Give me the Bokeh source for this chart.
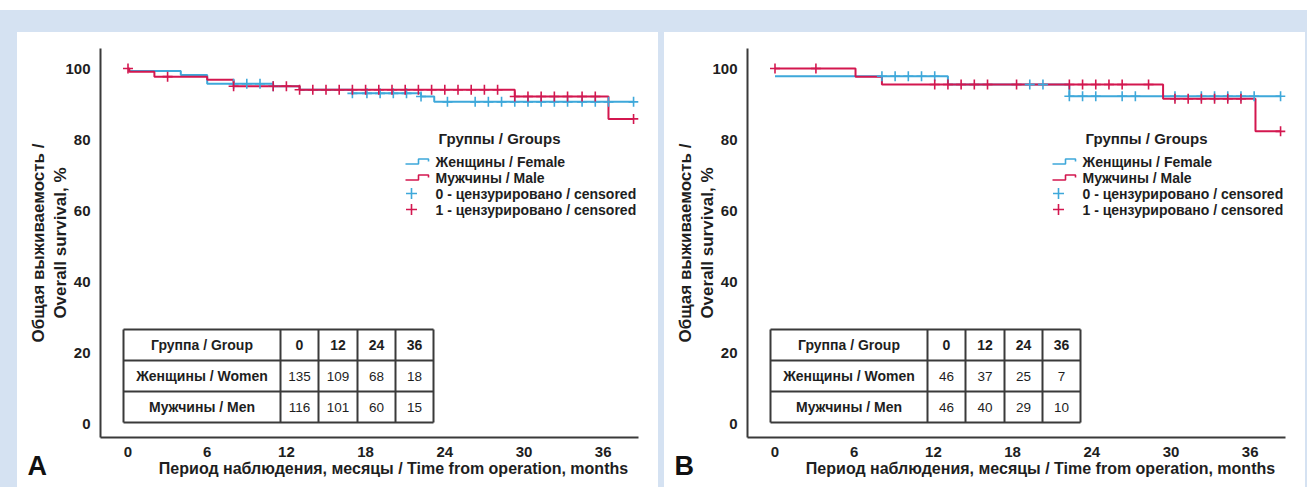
import numpy as np
from bokeh.plotting import figure
from bokeh.models import FixedTicker, Spacer, Label
from bokeh.layouts import row, column
from bokeh.core.properties import value
from bokeh.embed import file_html
from bokeh.resources import INLINE

# ---------------- data ----------------
x_ticks = [0, 6, 12, 18, 24, 30, 36]
y_ticks = [0, 20, 40, 60, 80, 100]

# Panel A
a_female_t = [0, 4.0, 6.0, 11.0, 13.0, 17.0, 22.2, 23.2]
a_female_s = [99.3, 98.2, 95.7, 95.0, 94.0, 93.0, 92.1, 90.6]
a_female_cens = [8, 9, 10, 11, 17.0, 18.1, 19.1, 20.1, 21.1, 22.2, 24.2, 26.3, 27.3,
                 28.3, 29.3, 30.3, 31.3, 32.3, 33.3, 34.4, 35.4, 36.4, 38.3]
a_male_t = [0, 0.1, 2.0, 6.0, 8.0, 13.0, 29.3, 36.4]
a_male_s = [100, 99.1, 97.7, 96.8, 95.0, 94.0, 92.1, 85.8]
a_male_cens = [0, 3, 8, 11, 12, 13, 14, 15, 16, 17, 18, 19, 20, 21, 22, 23, 24, 25, 26,
               27, 28, 29.3, 30.3, 31.3, 32.3, 33.3, 34.4, 35.4, 38.3]
a_end = 38.3

# Panel B
b_female_t = [0, 13.1, 22.3]
b_female_s = [97.8, 95.5, 92.2]
b_female_cens = [8.1, 9.1, 10.1, 11.1, 12.1, 19.3, 20.3, 22.3, 23.3, 24.3, 26.3, 27.3,
                 30.3, 32.3, 33.3, 34.3, 35.3, 36.3, 38.3]
b_male_t = [0, 6.1, 8.1, 29.4, 36.4]
b_male_s = [100, 97.7, 95.5, 91.5, 82.3]
b_male_cens = [0, 3.1, 12.1, 13.1, 14.1, 15.1, 16.1, 18.3, 22.3, 23.3, 24.3, 25.3, 26.3,
               28.3, 30.3, 31.3, 32.3, 33.3, 34.3, 35.3, 38.3]
b_end = 38.3

# Risk tables
table_header = ["Группа / Group", "0", "12", "24", "36"]
table_groups = ["Женщины / Women", "Мужчины / Men"]
a_risk_women = [135, 109, 68, 18]
a_risk_men = [116, 101, 60, 15]
b_risk_women = [46, 37, 25, 7]
b_risk_men = [46, 40, 29, 10]

legend_title = "Группы / Groups"
legend_labels = ["Женщины / Female", "Мужчины / Male",
                 "0 - цензурировано / censored", "1 - цензурировано / censored"]

x_label = "Период наблюдения, месяцы / Time from operation, months"
y_label = "Общая выживаемость /\nOverall survival, %"

# ---------------- styling / layout ----------------
FONT = "Liberation Sans"
BLUE = "#3ea8da"
RED = "#d3174f"
BG = "#d5e2f2"
AX = "#3a3a3a"
TXT = "#1e1e1e"

W, H = 641, 455
BL, BR, BT = 83, 20, 16
FW = W - BL - BR          # frame width
FH = 389                  # frame height
BB = H - BT - FH
PXM = 13.2                # px per month
PXU = 3.55                # px per % unit
X0 = -27.5 / PXM
X1 = X0 + FW / PXM
Y1 = 100 + 20 / PXU
Y0 = Y1 - FH / PXU


def dx(px):
    return X0 + px / PXM


def dy(py):
    return Y1 - py / PXU


def surv_at(ts, ss, t):
    i = int(np.searchsorted(np.array(ts), t, side="right")) - 1
    return ss[max(i, 0)]


def make_panel(f_t, f_s, f_c, m_t, m_s, m_c, end, risk_w, risk_m, tag):
    p = figure(width=W, height=H, output_backend="svg", toolbar_location=None,
               x_range=(X0, X1), y_range=(Y0, Y1),
               min_border_left=BL, min_border_right=BR, min_border_top=BT,
               min_border_bottom=BB)
    p.outline_line_color = None
    p.grid.visible = False
    p.background_fill_color = "white"
    p.border_fill_color = "white"

    for ax, ticks in ((p.xaxis[0], x_ticks), (p.yaxis[0], y_ticks)):
        ax.ticker = FixedTicker(ticks=ticks)
        ax.axis_line_color = AX
        ax.axis_line_width = 2
        ax.major_tick_line_color = None
        ax.minor_tick_line_color = None
        ax.major_label_text_font = FONT
        ax.major_label_text_font_style = "bold"
        ax.major_label_text_font_size = "15px"
        ax.major_label_text_color = TXT
        ax.axis_label_text_font = FONT
        ax.axis_label_text_font_style = "bold"
        ax.axis_label_text_font_size = "17px"
        ax.axis_label_text_color = TXT
    p.xaxis.major_label_standoff = 3
    p.yaxis.major_label_standoff = 4
    p.yaxis.axis_label_standoff = -8
    p.yaxis.axis_label = y_label

    # curves
    p.step(list(f_t) + [end], list(f_s) + [f_s[-1]], mode="after",
           line_color=BLUE, line_width=2)
    p.step(list(m_t) + [end], list(m_s) + [m_s[-1]], mode="after",
           line_color=RED, line_width=2)
    p.scatter(f_c, [surv_at(f_t, f_s, t) for t in f_c], marker="cross", size=10,
              line_color=BLUE, line_width=1.6)
    p.scatter(m_c, [surv_at(m_t, m_s, t) for t in m_c], marker="cross", size=10,
              line_color=RED, line_width=1.6)

    # legend (drawn manually)
    p.text([dx(338)], [dy(90)], text=[legend_title], text_font=value(FONT),
           text_font_style="bold", text_font_size=value("15px"), text_color=TXT,
           text_baseline="middle", text_align="left")
    ly = [113, 129, 145, 161]
    p.text([dx(335)] * 4, [dy(v) for v in ly], text=legend_labels, text_font=value(FONT),
           text_font_style="bold", text_font_size=value("14px"), text_color=TXT,
           text_baseline="middle", text_align="left")
    for yy, col in ((ly[0], BLUE), (ly[1], RED)):
        xs = [dx(305), dx(318), dx(318), dx(328), dx(328)]
        ys = [dy(yy + 2.5), dy(yy + 2.5), dy(yy - 2.5), dy(yy - 2.5), dy(yy)]
        p.line(xs, ys, line_color=col, line_width=1.6)
    p.scatter([dx(311)], [dy(ly[2])], marker="cross", size=11, line_color=BLUE, line_width=1.6)
    p.scatter([dx(311)], [dy(ly[3])], marker="cross", size=11, line_color=RED, line_width=1.6)

    # risk table
    cx = [23, 180, 218, 257, 295, 333]
    ry = [281, 312, 343, 374]
    x0s, y0s, x1s, y1s = [], [], [], []
    for c in cx:
        x0s.append(dx(c)); x1s.append(dx(c)); y0s.append(dy(ry[0])); y1s.append(dy(ry[-1]))
    for r in ry:
        x0s.append(dx(cx[0])); x1s.append(dx(cx[-1])); y0s.append(dy(r)); y1s.append(dy(r))
    p.segment(x0s, y0s, x1s, y1s, line_color=AX, line_width=2)

    ccx = [dx((cx[i] + cx[i + 1]) / 2) for i in range(5)]
    rcy = [dy((ry[i] + ry[i + 1]) / 2) for i in range(3)]
    p.text([ccx[0]], [rcy[0]], text=[table_header[0]], text_font=value(FONT),
           text_font_style="bold", text_font_size=value("14px"), text_color=TXT,
           text_align="center", text_baseline="middle")
    p.text(ccx[1:], [rcy[0]] * 4, text=table_header[1:], text_font=value(FONT),
           text_font_style="bold", text_font_size=value("14px"), text_color=TXT,
           text_align="center", text_baseline="middle")
    p.text([ccx[0]] * 2, rcy[1:], text=table_groups, text_font=value(FONT),
           text_font_style="bold", text_font_size=value("14px"), text_color=TXT,
           text_align="center", text_baseline="middle")
    vals = [str(v) for v in risk_w] + [str(v) for v in risk_m]
    p.text(ccx[1:] * 2, [rcy[1]] * 4 + [rcy[2]] * 4, text=vals, text_font=value(FONT),
           text_font_size=value("13.5px"), text_color=TXT,
           text_align="center", text_baseline="middle")

    # x axis title and panel tag as canvas-positioned labels in side panels
    p.add_layout(Label(x=376, y=436, x_units="canvas", y_units="canvas", text=x_label,
                       text_font=FONT, text_font_style="bold", text_font_size="16px",
                       text_color=TXT, text_align="center", text_baseline="middle"),
                 "below")
    p.add_layout(Label(x=10, y=433, x_units="canvas", y_units="canvas", text=tag,
                       text_font=FONT, text_font_style="bold", text_font_size="27px",
                       text_color="#111111", text_align="left", text_baseline="middle"),
                 "right")
    return p


pA = make_panel(a_female_t, a_female_s, a_female_cens, a_male_t, a_male_s, a_male_cens,
                a_end, a_risk_women, a_risk_men, "A")
pB = make_panel(b_female_t, b_female_s, b_female_cens, b_male_t, b_male_s, b_male_cens,
                b_end, b_risk_women, b_risk_men, "B")

bgs = {"background-color": BG}
layout = column(
    Spacer(width=1307, height=10),
    Spacer(width=1307, height=22, styles=bgs),
    row(Spacer(width=17, height=H, styles=bgs), pA,
        Spacer(width=6, height=H, styles=bgs), pB,
        Spacer(width=2, height=H, styles=bgs)),
)

open("out.html", "w").write(file_html(layout, INLINE))
